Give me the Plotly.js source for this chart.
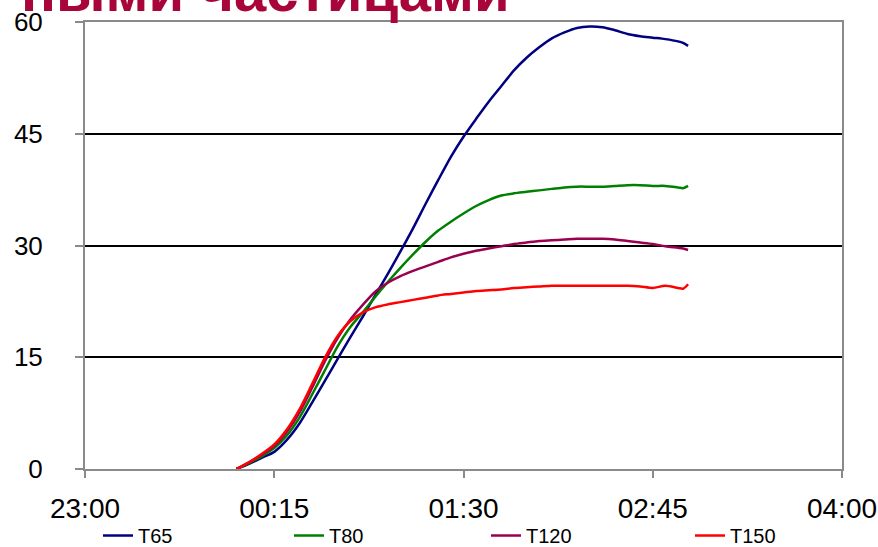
<!DOCTYPE html>
<html>
<head>
<meta charset="utf-8">
<script src="https://cdn.plot.ly/plotly-3.0.1.min.js"></script>
<style>
  html, body { margin: 0; padding: 0; background: #ffffff; }
  #chart { width: 878px; height: 547px; }
</style>
</head>
<body>
<div id="chart"></div>
<script>
// Measurement times (one night, 00:00 to 02:59)
const times = [
  '2000-01-02 00:00', '2000-01-02 00:05', '2000-01-02 00:10', '2000-01-02 00:15',
  '2000-01-02 00:20', '2000-01-02 00:25', '2000-01-02 00:30', '2000-01-02 00:35',
  '2000-01-02 00:40', '2000-01-02 00:45', '2000-01-02 00:50', '2000-01-02 00:55',
  '2000-01-02 01:00', '2000-01-02 01:05', '2000-01-02 01:10', '2000-01-02 01:15',
  '2000-01-02 01:20', '2000-01-02 01:25', '2000-01-02 01:30', '2000-01-02 01:35',
  '2000-01-02 01:40', '2000-01-02 01:45', '2000-01-02 01:50', '2000-01-02 01:55',
  '2000-01-02 02:00', '2000-01-02 02:05', '2000-01-02 02:10', '2000-01-02 02:15',
  '2000-01-02 02:20', '2000-01-02 02:25', '2000-01-02 02:30', '2000-01-02 02:35',
  '2000-01-02 02:40', '2000-01-02 02:45', '2000-01-02 02:50', '2000-01-02 02:55',
  '2000-01-02 02:57', '2000-01-02 02:59'
];

const seriesNames = ['T65', 'T80', 'T120', 'T150'];

const t65 = [0, 0.7, 1.5, 2.3, 3.9, 6.1, 8.9, 11.8, 14.7, 17.6, 20.4, 23.3,
  26.2, 29.2, 32.3, 35.6, 38.8, 41.9, 44.6, 47.0, 49.3, 51.4, 53.5, 55.2,
  56.6, 57.8, 58.6, 59.2, 59.4, 59.3, 58.9, 58.4, 58.1, 57.9, 57.7, 57.4,
  57.2, 56.8];

const t80 = [0, 0.8, 1.7, 2.8, 4.5, 6.9, 10.0, 13.2, 16.4, 19.0, 21.0, 23.1,
  25.1, 27.0, 28.8, 30.5, 32.0, 33.2, 34.3, 35.3, 36.1, 36.7, 37.0, 37.2,
  37.4, 37.6, 37.8, 37.9, 37.9, 37.9, 38.0, 38.1, 38.1, 38.0, 38.0, 37.8,
  37.7, 38.0];

const t120 = [0, 0.9, 1.9, 3.1, 5.0, 7.6, 10.9, 14.4, 17.5, 20.0, 22.0, 23.8,
  25.0, 25.9, 26.6, 27.2, 27.8, 28.4, 28.9, 29.3, 29.6, 29.9, 30.2, 30.4,
  30.6, 30.7, 30.8, 30.9, 30.9, 30.9, 30.8, 30.6, 30.4, 30.2, 29.9, 29.7,
  29.6, 29.4];

const t150 = [0, 0.9, 2.0, 3.3, 5.3, 8.0, 11.4, 14.9, 17.8, 19.8, 21.0, 21.7,
  22.1, 22.4, 22.7, 23.0, 23.3, 23.5, 23.7, 23.9, 24.0, 24.1, 24.3, 24.4,
  24.5, 24.6, 24.6, 24.6, 24.6, 24.6, 24.6, 24.6, 24.5, 24.3, 24.6, 24.3,
  24.2, 24.8];

const seriesValues = [t65, t80, t120, t150];
const seriesColors = ['#000080', '#008000', '#990050', '#ff0000'];
// one small legend per series, so each entry sits at its own spot below the axis
const legendIds = ['legend', 'legend2', 'legend3', 'legend4'];
const legendX = [0.0172, 0.2695, 0.5297, 0.7992];

const traces = seriesNames.map((name, i) => ({
  type: 'scatter',
  mode: 'lines',
  name: name,
  legend: legendIds[i],
  x: times,
  y: seriesValues[i],
  line: { color: seriesColors[i], width: 2.5, shape: 'spline', smoothing: 0.8 }
}));

const axisGrey = '#8a8a8a';
const baseFont = 'Liberation Sans, Arial, sans-serif';

const layout = {
  width: 878,
  height: 547,
  margin: { l: 85, r: 36, t: 22, b: 78, autoexpand: false },
  paper_bgcolor: '#ffffff',
  plot_bgcolor: '#ffffff',
  showlegend: true,
  xaxis: {
    type: 'date',
    range: ['2000-01-01 23:00', '2000-01-02 04:00'],
    tick0: '2000-01-01 23:00',
    dtick: 75 * 60 * 1000,
    tickformat: '%H:%M',
    showgrid: false,
    zeroline: false,
    showline: true, linecolor: axisGrey, linewidth: 2, mirror: true,
    ticks: 'outside', ticklen: 7, tickwidth: 2, tickcolor: axisGrey,
    ticklabelstandoff: 6,
    tickfont: { family: baseFont, size: 28, color: '#000000' }
  },
  yaxis: {
    range: [0, 60],
    tick0: 0, dtick: 15,
    showgrid: true, gridcolor: '#000000', gridwidth: 2,
    zeroline: false,
    showline: true, linecolor: axisGrey, linewidth: 2, mirror: true,
    ticks: 'outside', ticklen: 8, tickwidth: 2, tickcolor: axisGrey,
    ticklabelstandoff: 27,
    tickfont: { family: baseFont, size: 26, color: '#000000' }
  },
  annotations: [{
    text: 'ными частицами',
    xref: 'paper', yref: 'paper',
    x: (512 - 85) / 757, xanchor: 'right',
    y: 0.9935, yanchor: 'bottom',
    showarrow: false,
    font: { family: baseFont, size: 58, weight: 'bold', color: '#a8063b' }
  }]
};

legendIds.forEach((id, i) => {
  layout[id] = {
    orientation: 'h',
    x: legendX[i], xanchor: 'left',
    y: -0.1488, yanchor: 'middle',
    font: { family: baseFont, size: 20, color: '#000000' },
    bgcolor: 'rgba(0,0,0,0)'
  };
});

Plotly.newPlot('chart', traces, layout, { staticPlot: true, displayModeBar: false });
</script>
</body>
</html>
